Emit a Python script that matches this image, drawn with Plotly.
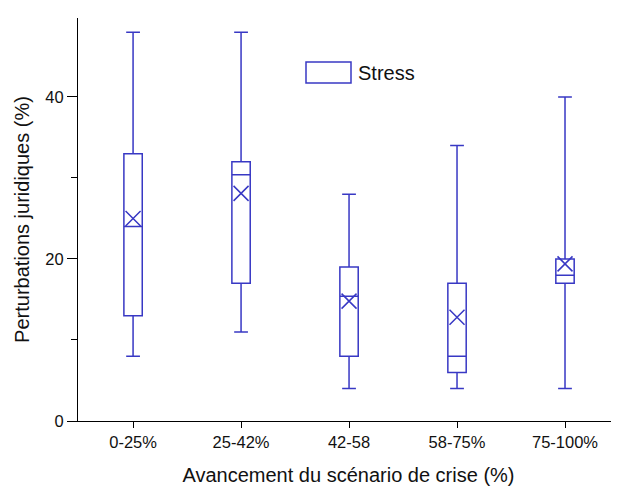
import plotly.graph_objects as go

categories = ["0-25%", "25-42%", "42-58", "58-75%", "75-100%"]
q1 = [13, 17, 8, 6, 17]
median = [24, 30.4, 15.4, 8, 18]
q3 = [33, 32, 19, 17, 20]
lower = [8, 11, 4, 4, 4]
upper = [48, 48, 28, 34, 40]
mean = [25, 28.1, 14.8, 12.8, 19.4]

BLUE = "#3838C4"
FONT = "Liberation Sans, Arial, sans-serif"

# page body has an 8px margin; compensate
OFF = 8
L, T, B = 78 - OFF, 18 - OFF, 65
W, H = 619 - OFF, 486 - OFF

fig = go.Figure()
fig.add_trace(go.Box(
    x=categories, q1=q1, median=median, q3=q3,
    lowerfence=lower, upperfence=upper,
    boxpoints=False, width=0.17, whiskerwidth=0.75,
    line=dict(color=BLUE, width=1.5), fillcolor="rgba(0,0,0,0)",
    name="Stress", showlegend=False,
))
fig.add_trace(go.Scatter(
    x=categories, y=mean, mode="markers",
    marker=dict(symbol="x-thin-open", size=15, line=dict(color=BLUE, width=1.5), color=BLUE),
    showlegend=False, hoverinfo="skip",
))

pw, ph = 541, 403
fig.add_shape(type="rect", xref="paper", yref="paper",
              x0=(306 - 78) / pw, x1=(351 - 78) / pw,
              y0=(421 - 83) / ph, y1=(421 - 62) / ph,
              line=dict(color=BLUE, width=1.5), fillcolor="white")
fig.add_annotation(text="Stress", xref="paper", yref="paper",
                   x=(356 - 78) / pw, y=(421 - 73) / ph,
                   xanchor="left", yanchor="middle", showarrow=False,
                   font=dict(family=FONT, size=20, color="#111"))

fig.update_layout(
    width=W, height=H,
    margin=dict(l=L, r=0, t=T, b=B),
    paper_bgcolor="white", plot_bgcolor="white",
    font=dict(family=FONT, color="#111"),
    xaxis=dict(
        type="category", range=[-0.51, 4.5],
        showline=True, linecolor="black", linewidth=1,
        ticks="outside", ticklen=6, tickcolor="black",
        tickfont=dict(size=16.5, family=FONT),
        title=dict(text="Avancement du scénario de crise (%)", font=dict(size=20, family=FONT), standoff=20),
        showgrid=False, zeroline=False,
    ),
    yaxis=dict(
        range=[0, 49.75], tickvals=[0, 20, 40],
        showline=True, linecolor="black", linewidth=1,
        ticks="outside", ticklen=10, tickcolor="black",
        tickfont=dict(size=16.5, family=FONT),
        minor=dict(tickvals=[10, 30], ticks="outside", ticklen=6, tickcolor="black"),
        title=dict(text="Perturbations juridiques (%)", font=dict(size=20, family=FONT), standoff=10),
        showgrid=False, zeroline=False,
    ),
)

fig.write_html("out.html")
